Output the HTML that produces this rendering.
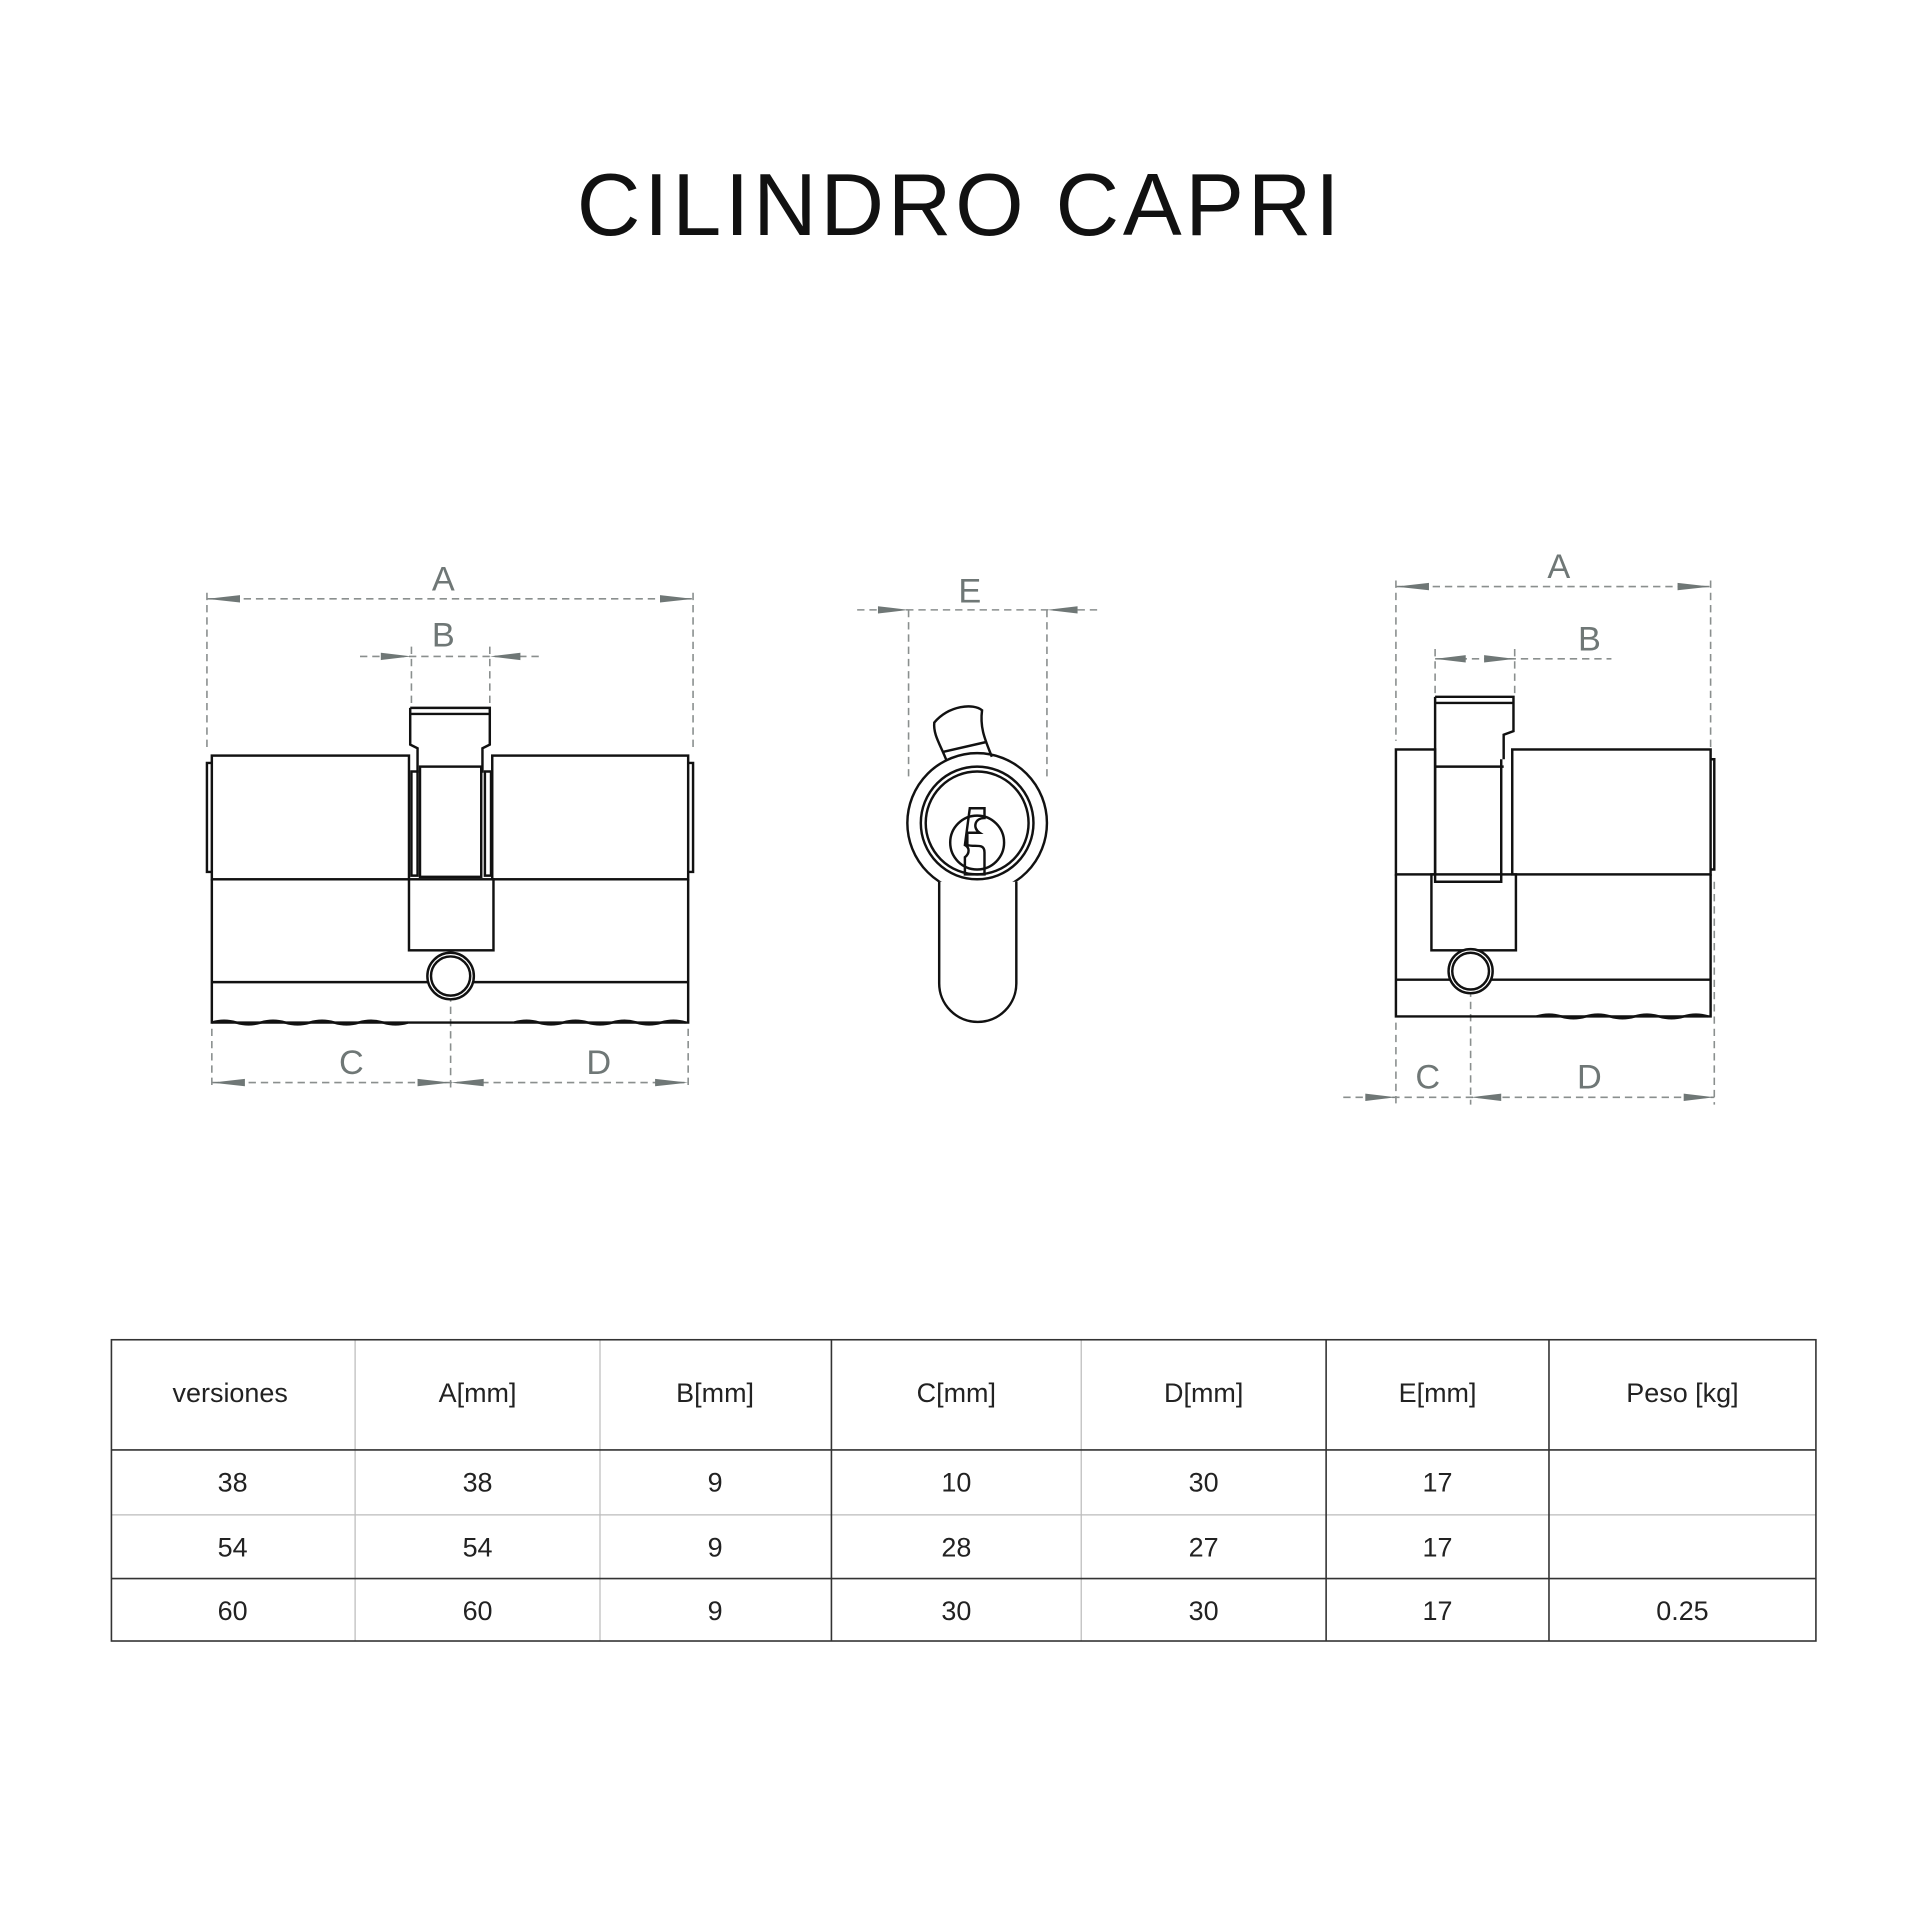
<!DOCTYPE html>
<html><head><meta charset="utf-8"><style>
html,body{margin:0;padding:0;background:#fff;}
svg{display:block;}
text{font-family:"Liberation Sans",sans-serif;}
</style></head><body>
<svg width="1920" height="1919" viewBox="0 0 1568 1567" preserveAspectRatio="none" xmlns="http://www.w3.org/2000/svg">
<rect width="1568" height="1567" fill="#fff"/>
<text x="784" y="192" font-size="72" text-anchor="middle" fill="#111" letter-spacing="3">CILINDRO CAPRI</text>

<g stroke="#8a8f8e" stroke-width="1.3" stroke-dasharray="6,4" fill="none">
<line x1="169" y1="484" x2="169" y2="612"/><line x1="566" y1="484" x2="566" y2="612"/>
<line x1="169" y1="489" x2="566" y2="489"/>
<line x1="336" y1="528" x2="336" y2="575"/><line x1="400" y1="528" x2="400" y2="575"/>
<line x1="294" y1="536" x2="441" y2="536"/>
<line x1="173" y1="840" x2="173" y2="890"/><line x1="562" y1="840" x2="562" y2="890"/>
<line x1="368" y1="812" x2="368" y2="890"/>
<line x1="173" y1="884" x2="562" y2="884"/>
<line x1="700" y1="498" x2="897" y2="498"/>
<line x1="742" y1="498" x2="742" y2="635"/><line x1="855" y1="498" x2="855" y2="635"/>
<line x1="1140" y1="474" x2="1140" y2="605"/><line x1="1397" y1="474" x2="1397" y2="620"/>
<line x1="1140" y1="479" x2="1397" y2="479"/>
<line x1="1172" y1="530" x2="1172" y2="568"/><line x1="1237" y1="530" x2="1237" y2="568"/>
<line x1="1172" y1="538" x2="1316" y2="538"/>
<line x1="1140" y1="835" x2="1140" y2="902"/><line x1="1201" y1="808" x2="1201" y2="902"/><line x1="1400" y1="720" x2="1400" y2="902"/>
<line x1="1097" y1="896" x2="1400" y2="896"/>
</g>
<g stroke="none" fill="#6f7776">
<path d="M169,489 l27,-3 v6z"/><path d="M566,489 l-27,-3 v6z"/>
<path d="M336,536 l-25,-3 v6z"/><path d="M400,536 l25,-3 v6z"/>
<path d="M173,884 l27,-3 v6z"/><path d="M368,884 l-27,-3 v6z"/><path d="M368,884 l27,-3 v6z"/><path d="M562,884 l-27,-3 v6z"/>
<path d="M742,498 l-25,-3 v6z"/><path d="M855,498 l25,-3 v6z"/>
<path d="M1140,479 l27,-3 v6z"/><path d="M1397,479 l-27,-3 v6z"/>
<path d="M1172,538 l25,-3 v6z"/><path d="M1237,538 l-25,-3 v6z"/>
<path d="M1140,896 l-25,-3 v6z"/><path d="M1201,896 l25,-3 v6z"/><path d="M1400,896 l-25,-3 v6z"/>
</g>
<g fill="#6f7776" font-size="28" text-anchor="middle">
<text x="362" y="482">A</text><text x="362" y="528">B</text><text x="287" y="877">C</text><text x="489" y="877">D</text>
<text x="792" y="492">E</text>
<text x="1273" y="472">A</text><text x="1298" y="531">B</text><text x="1166" y="889">C</text><text x="1298" y="889">D</text>
</g>

<g stroke="#111" stroke-width="2" fill="none">
<rect x="173" y="617" width="161" height="101"/>
<rect x="402" y="617" width="160" height="101"/>
<path d="M173,623 h-4 v89 h4"/><path d="M562,623 h4 v89 h-4"/>
<path d="M173,718 V835 H562 V718"/>
<line x1="173" y1="802" x2="562" y2="802"/>
<path d="M173,835 q10,-3 20,0 t20,0 t20,0 t20,0 t20,0 t20,0 t20,0 t20,0 M420,835 q10,-3 20,0 t20,0 t20,0 t20,0 t20,0 t20,0 t20,0"/>
<rect x="334" y="718" width="69" height="58"/>
<path d="M335,578 h65 v30 l-6,3 v20 M335,583 h65 M335,578 v30 l6,3 v20"/>
<rect x="343" y="626" width="50" height="90"/>
<path d="M336,630 h5 v85 h-5z M396,630 h5 v85 h-5z"/>
<circle cx="368" cy="797" r="19" fill="#fff"/>
<circle cx="368" cy="797" r="16"/>
<circle cx="798" cy="672" r="57" fill="#fff"/>
<circle cx="798" cy="672" r="46"/>
<circle cx="798" cy="672" r="42"/>
<path d="M767,720 V803 A31.5,31.5 0 0 0 830,803 V720" fill="#fff"/>
<path d="M773,621 C768,608 762,600 763,590 C775,576 795,574 802,580 C800,595 805,605 810,618"/>
<line x1="770" y1="614" x2="805" y2="606"/>
<circle cx="798" cy="688" r="22"/>
<path d="M792,660 h12 v8 c-8,0 -10,8 -4,12 h-10 v10 c6,2 14,-2 14,6 v18 h-16 v-14 c4,-3 4,-8 0,-10z"/>
<rect x="1140" y="612" width="32" height="102"/>
<path d="M1140,714 V830 H1397 V714"/>
<rect x="1235" y="612" width="162" height="102"/>
<path d="M1397,620 h3 v90 h-3"/>
<line x1="1140" y1="800" x2="1397" y2="800"/>
<path d="M1255,830 q10,-3 20,0 t20,0 t20,0 t20,0 t20,0 t20,0 t20,0"/>
<rect x="1169" y="714" width="69" height="62"/>
<path d="M1172,569 h64 v28 l-8,3 v20 M1172,574 h64 M1172,569 v151 h54 v-100"/>
<line x1="1172" y1="626" x2="1228" y2="626"/>
<circle cx="1201" cy="793" r="18" fill="#fff"/>
<circle cx="1201" cy="793" r="15"/>
</g>

<g stroke="#bbb" stroke-width="1" fill="none">
<line x1="290" y1="1094" x2="290" y2="1340"/><line x1="490" y1="1094" x2="490" y2="1340"/><line x1="883" y1="1094" x2="883" y2="1340"/>
<line x1="91" y1="1237" x2="1483" y2="1237"/>
</g>
<g stroke="#333" stroke-width="1.3" fill="none">
<rect x="91" y="1094" width="1392" height="246"/>
<line x1="91" y1="1184" x2="1483" y2="1184"/>
<line x1="91" y1="1289" x2="1483" y2="1289"/>
<line x1="679" y1="1094" x2="679" y2="1340"/><line x1="1083" y1="1094" x2="1083" y2="1340"/><line x1="1265" y1="1094" x2="1265" y2="1340"/>
</g>
<g fill="#222" font-size="22" text-anchor="middle">
<text x="188" y="1145">versiones</text><text x="390" y="1145">A[mm]</text><text x="584" y="1145">B[mm]</text><text x="781" y="1145">C[mm]</text><text x="983" y="1145">D[mm]</text><text x="1174" y="1145">E[mm]</text><text x="1374" y="1145">Peso [kg]</text>
<text x="190" y="1218">38</text><text x="390" y="1218">38</text><text x="584" y="1218">9</text><text x="781" y="1218">10</text><text x="983" y="1218">30</text><text x="1174" y="1218">17</text>
<text x="190" y="1271">54</text><text x="390" y="1271">54</text><text x="584" y="1271">9</text><text x="781" y="1271">28</text><text x="983" y="1271">27</text><text x="1174" y="1271">17</text>
<text x="190" y="1323">60</text><text x="390" y="1323">60</text><text x="584" y="1323">9</text><text x="781" y="1323">30</text><text x="983" y="1323">30</text><text x="1174" y="1323">17</text><text x="1374" y="1323">0.25</text>
</g>
</svg>
</body></html>
